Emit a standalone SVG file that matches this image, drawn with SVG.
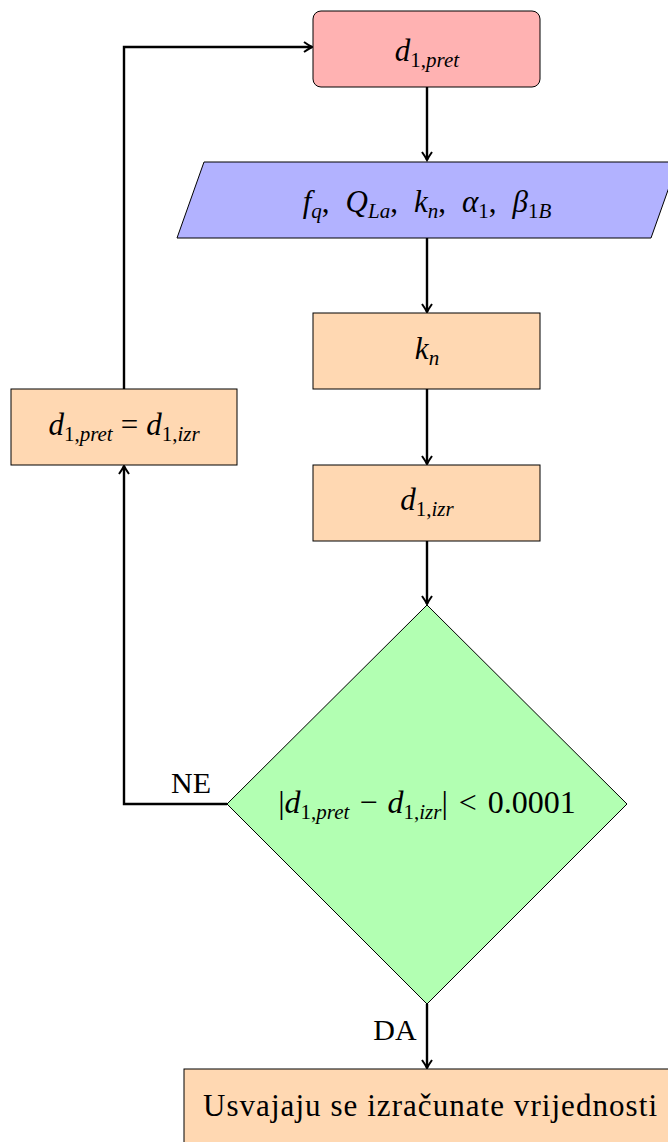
<svg xmlns="http://www.w3.org/2000/svg" width="668" height="1142" viewBox="0 0 668 1142">
<style>
.node{stroke:#000;stroke-width:1}
.proc{fill:#ffd8b2}
.t{font-family:"Liberation Serif","DejaVu Serif",serif;font-size:31px;fill:#000;text-anchor:middle}
.m{font-style:italic}
.s{font-size:21px}
.c{fill:none;stroke:#000;stroke-width:2.4}
</style>
<defs>
<marker id="ah" viewBox="-10 -6 12 12" refX="0" refY="0" markerWidth="12" markerHeight="12" markerUnits="userSpaceOnUse" orient="auto">
<path d="M-8,-5 Q-3,-1.5 0,0 Q-3,1.5 -8,5" fill="none" stroke="#000" stroke-width="2"/>
</marker>
</defs>
<rect width="668" height="1142" fill="#fff"/>
<g id="connectors">
<path class="c" d="M427,87 V160" marker-end="url(#ah)"/>
<path class="c" d="M427,238 V312" marker-end="url(#ah)"/>
<path class="c" d="M427,389 V464" marker-end="url(#ah)"/>
<path class="c" d="M427,541 V604" marker-end="url(#ah)"/>
<path class="c" d="M227,804 H124 V466" marker-end="url(#ah)"/>
<path class="c" d="M124,389 V47 H312" marker-end="url(#ah)"/>
<path class="c" d="M427,1004 V1068" marker-end="url(#ah)"/>
<text class="t" x="191" y="793" style="font-size:30px">NE</text>
<text class="t" x="395" y="1040" style="font-size:30px">DA</text>
</g>
<g id="start">
<rect class="node" x="313" y="11" width="227" height="76" rx="8" fill="#ffb2b2"/>
<text class="t" x="427" y="61"><tspan class="m">d</tspan><tspan class="s" dy="6">1,<tspan class="m">pret</tspan></tspan></text>
</g>
<g id="input">
<polygon class="node" points="204,162 678,162 651,238 177,238" fill="#b2b2ff"/>
<text class="t" x="427" y="212"><tspan class="m">f</tspan><tspan class="s m" dy="6">q</tspan><tspan dy="-6">,</tspan><tspan class="m" dx="16">Q</tspan><tspan class="s m" dy="6">La</tspan><tspan dy="-6">,</tspan><tspan class="m" dx="16">k</tspan><tspan class="s m" dy="6">n</tspan><tspan dy="-6">,</tspan><tspan class="m" dx="16">α</tspan><tspan class="s" dy="6">1</tspan><tspan dy="-6">,</tspan><tspan class="m" dx="16">β</tspan><tspan class="s" dy="6">1<tspan class="m">B</tspan></tspan></text>
</g>
<g id="kn">
<rect class="node proc" x="313" y="313" width="227" height="76"/>
<text class="t" x="427" y="359"><tspan class="m">k</tspan><tspan class="s m" dy="6">n</tspan></text>
</g>
<g id="dizr">
<rect class="node proc" x="313" y="465" width="227" height="76"/>
<text class="t" x="427" y="510"><tspan class="m">d</tspan><tspan class="s" dy="6">1,<tspan class="m">izr</tspan></tspan></text>
</g>
<g id="update">
<rect class="node proc" x="11" y="389" width="226" height="76"/>
<text class="t" x="124" y="435"><tspan class="m">d</tspan><tspan class="s" dy="6">1,<tspan class="m">pret</tspan></tspan><tspan dy="-6" dx="8">=</tspan><tspan class="m" dx="8">d</tspan><tspan class="s" dy="6">1,<tspan class="m">izr</tspan></tspan></text>
</g>
<g id="decision">
<polygon class="node" points="427,605 627,804 427,1004 227,804" fill="#b2ffb2"/>
<text class="t" x="427" y="813" style="font-size:32px">|<tspan class="m">d</tspan><tspan class="s" dy="6">1,<tspan class="m">pret</tspan></tspan><tspan dy="-6" dx="10">−</tspan><tspan class="m" dx="10">d</tspan><tspan class="s" dy="6">1,<tspan class="m">izr</tspan></tspan><tspan dy="-6">|</tspan><tspan dx="11">&lt;</tspan><tspan dx="11">0.0001</tspan></text>
</g>
<g id="end">
<rect class="node proc" x="184" y="1069" width="500" height="90"/>
<text class="t" x="430" y="1116" textLength="454" lengthAdjust="spacing" style="font-size:31px">Usvajaju se izračunate vrijednosti</text>
</g>
</svg>
